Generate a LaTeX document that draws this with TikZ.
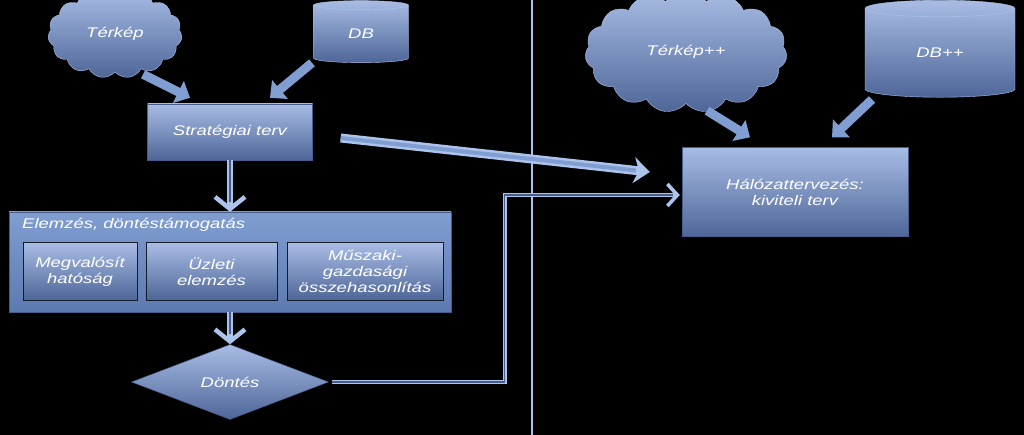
\documentclass[tikz,border=0pt]{standalone}
\usepackage{fontspec}
\newfontfamily\diafont[FakeStretch=1.32]{Liberation Sans}
\usetikzlibrary{shapes.geometric,shapes.symbols,arrows.meta}
\definecolor{boxtop}{RGB}{168,188,228}
\definecolor{boxbot}{RGB}{78,102,152}
\definecolor{outtop}{RGB}{128,158,208}
\definecolor{outbot}{RGB}{92,122,176}
\definecolor{arrowblue}{RGB}{128,158,210}
\definecolor{linelight}{RGB}{172,196,236}
\definecolor{linedark}{RGB}{70,92,140}
\begin{document}
\begin{tikzpicture}[x=1pt,y=-1pt,
  every node/.style={font=\diafont\itshape\fontsize{14}{16}\selectfont, text=white, align=center},
  box/.style={rectangle, top color=boxtop, bottom color=boxbot, draw=linedark, inner sep=0pt},
  subbox/.style={box, draw=black!70!linedark, line width=1pt},
  cloudshape/.style={cloud, cloud puffs=15, cloud puff arc=110, top color=boxtop, bottom color=boxbot, draw=linelight, inner sep=0pt},
  dbshape/.style={cylinder, shape border rotate=90, aspect=0.35, top color=boxtop, bottom color=boxbot, draw=linelight, inner sep=0pt},
  blockarrow/.style={draw=arrowblue, line width=9pt, -{Triangle[length=13pt,width=24pt]}},
  dblarrow/.style={draw=linelight, line width=6pt, -{Straight Barb[length=12pt,width=30pt,line width=4.5pt]},
    postaction={draw=linedark, line width=2.4pt, -, shorten >=10pt}},
  bigarrow/.style={draw=linelight, line width=9pt, -{Stealth[length=16pt,width=26pt,inset=5pt]},
    postaction={draw=arrowblue, line width=4pt, -, shorten >=14pt}},
  pathline/.style={draw=linelight, line width=3.6pt, -{Straight Barb[length=10pt,width=22pt,line width=3.6pt]},
    postaction={draw=linedark, line width=1.2pt, -, shorten >=7pt}}]
\fill[black] (0,0) rectangle (1024,435);
\useasboundingbox (0,0) rectangle (1024,435);
% separator
\draw[linelight, line width=1.2pt] (532,0) -- (532,435);
% left part
\node[cloudshape, minimum width=134pt, minimum height=62pt] (terkep) at (115,34) {Térkép};
\node[dbshape, minimum width=95pt, minimum height=62pt] (db) at (361,34) {DB};
\node[box, minimum width=165pt, minimum height=56pt] (strat) at (230,132) {Stratégiai terv};
\node[box, top color=outtop, bottom color=outbot, minimum width=442pt, minimum height=100pt] (elemzes) at (230,262) {};
\node[anchor=base west, inner sep=0pt] (elemcim) at (22,229) {Elemzés, döntéstámogatás};
\node[subbox, minimum width=114pt, minimum height=57pt] (megval) at (80,271.5) {Megvalósít\\hatóság};
\node[subbox, minimum width=131pt, minimum height=57pt] (uzleti) at (211.5,271.5) {Üzleti\\elemzés};
\node[subbox, minimum width=156pt, minimum height=57pt] (muszaki) at (365,271.5) {Műszaki-\\gazdasági\\összehasonlítás};
\node[diamond, top color=boxtop, bottom color=boxbot, draw=linedark, inner sep=0pt, aspect=2.6, minimum width=197pt, minimum height=75pt] (dontes) at (230,382) {Döntés};
% right part
\node[cloudshape, minimum width=202pt, minimum height=97pt] (terkep2) at (686,52) {Térkép++};
\node[dbshape, minimum width=150pt, minimum height=97pt] (db2) at (940,53) {DB++};
\node[box, minimum width=226pt, minimum height=89pt] (halo) at (795,192) {Hálózattervezés:\\kiviteli terv};
% arrows
\draw[blockarrow] ([xshift=28pt,yshift=-2pt]terkep.south) -- ([xshift=-40pt,yshift=6pt]strat.north);
\draw[blockarrow] ([xshift=-49pt]db.south) -- ([xshift=40pt,yshift=6pt]strat.north);
\draw[blockarrow] ([xshift=21pt,yshift=-7pt]terkep2.south) -- ([xshift=-45pt,yshift=10pt]halo.north);
\draw[blockarrow] ([xshift=-68pt,yshift=-2pt]db2.south) -- ([xshift=37pt,yshift=10pt]halo.north);
\draw[dblarrow] (strat.south) -- (elemzes.north);
\draw[dblarrow] (elemzes.south) -- (dontes.north);
\draw[bigarrow] ([xshift=28pt,yshift=-6pt]strat.east) -- ([xshift=-32pt,yshift=20pt]halo.west);
\draw[pathline] ([xshift=3pt]dontes.east) -| ([xshift=-177pt,yshift=-3pt]halo.west) -- ([xshift=-2pt,yshift=-3pt]halo.west);
\end{tikzpicture}
\end{document}
